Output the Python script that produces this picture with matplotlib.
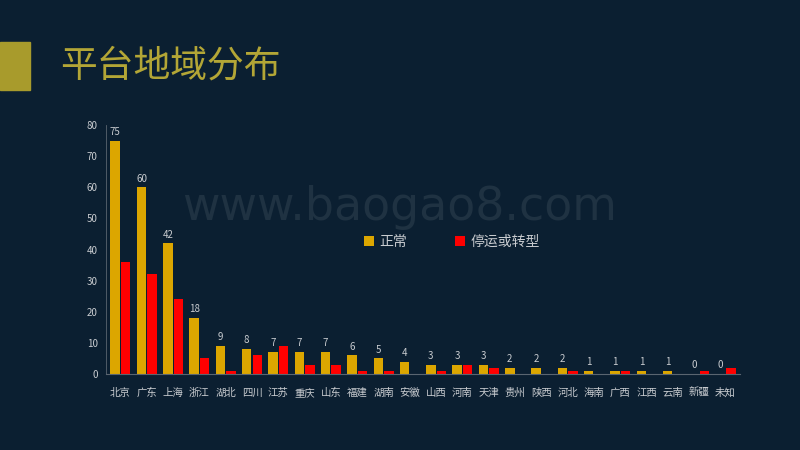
import matplotlib.pyplot as plt
import numpy as np
from matplotlib.patches import Rectangle

plt.rcParams['font.family'] = ['Noto Sans CJK SC', 'DejaVu Sans']

regions = ['北京', '广东', '上海', '浙江', '湖北', '四川', '江苏', '重庆', '山东', '福建',
           '湖南', '安徽', '山西', '河南', '天津', '贵州', '陕西', '河北', '海南', '广西',
           '江西', '云南', '新疆', '未知']
normal = [75, 60, 42, 18, 9, 8, 7, 7, 7, 6, 5, 4, 3, 3, 3, 2, 2, 2, 1, 1, 1, 1, 0, 0]
stopped = [36, 32, 24, 5, 1, 6, 9, 3, 3, 1, 1, 0, 1, 3, 2, 0, 0, 1, 0, 1, 0, 0, 1, 2]
yticks = [0, 10, 20, 30, 40, 50, 60, 70, 80]

bg = '#0b1f31'
gold = '#dca600'
red = '#ff0000'
txt = '#c9ccd0'

fig = plt.figure(figsize=(8, 4.5), dpi=100, facecolor=bg)

# title block
fig.patches.append(Rectangle((0, 1 - 90 / 450), 30 / 800, 48 / 450,
                             transform=fig.transFigure, color='#a89b2c'))
fig.text(60 / 800, 1 - 66 / 450, '平台地域分布', color='#b3a636', fontsize=26.5,
         va='center', ha='left')

# watermark
fig.text(400 / 800, 1 - 208 / 450, 'www.baogao8.com', color='#1f3242', fontsize=33,
         va='center', ha='center', family='DejaVu Sans')

ax = fig.add_axes([106 / 800, 1 - 374 / 450, 634 / 800, 249 / 450])
ax.set_facecolor('none')

x = np.arange(len(regions))
w = 0.36
off = w / 2 + 0.02
ax.bar(x - off, normal, w, color=gold, label='正常')
ax.bar(x + off, stopped, w, color=red, label='停运或转型')

for xi, v in zip(x, normal):
    ax.text(xi - off, v + 1.2, str(v), color=txt, fontsize=7,
            ha='center', va='bottom')

ax.set_xlim(-0.55, len(regions) - 0.45)
ax.set_ylim(0, 80)
ax.set_yticks(yticks)
ax.set_xticks(x)
ax.set_xticklabels(regions)
ax.tick_params(axis='both', length=0, colors=txt, labelsize=7)
ax.tick_params(axis='x', pad=13, labelsize=7.5)
ax.tick_params(axis='y', pad=6)
for lab in ax.get_xticklabels():
    lab.set_va('center_baseline')
for s in ['top', 'right']:
    ax.spines[s].set_visible(False)
ax.spines['left'].set_color('#5a6570')
ax.spines['bottom'].set_color('#5a6570')
ax.spines['left'].set_linewidth(0.6)
ax.spines['bottom'].set_linewidth(0.8)

leg = ax.legend(loc='center', bbox_to_anchor=(452 / 800, 1 - 242 / 450),
                bbox_transform=fig.transFigure, ncol=2, frameon=False,
                fontsize=10, handlelength=0.7, handleheight=0.7,
                handletextpad=0.4, columnspacing=3.5)
for t in leg.get_texts():
    t.set_color(txt)

fig.savefig('out.png', dpi=100, facecolor=bg)
